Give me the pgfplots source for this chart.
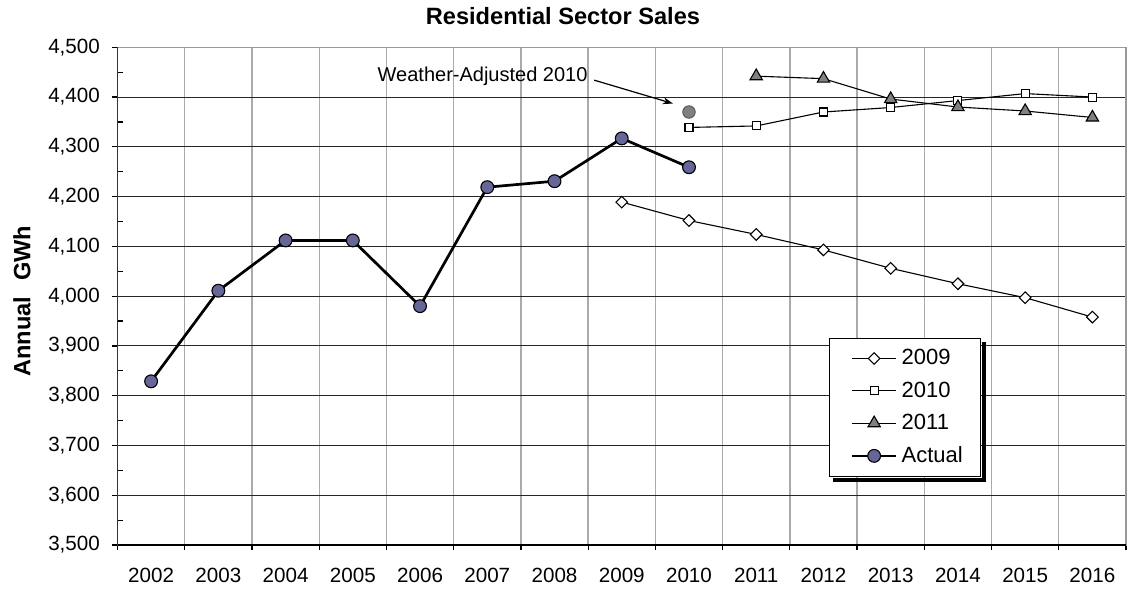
\documentclass[border=0pt]{standalone}
\usepackage{pgfplots}
\pgfplotsset{compat=1.18}
\usepackage{fontspec}
\setmainfont{Liberation Sans}
\usetikzlibrary{arrows.meta}
\definecolor{actualfill}{RGB}{102,102,153}
\definecolor{trigray}{RGB}{128,128,128}
\definecolor{vgrid}{RGB}{170,170,170}
\begin{document}
\begin{tikzpicture}
\begin{axis}[
  name=ax,
  scale only axis,
  width=504.25pt, height=248.9pt,
  xmin=-0.5, xmax=14.5,
  ymin=3500, ymax=4500,
  xtick={0,...,14},
  xticklabels={2002,2003,2004,2005,2006,2007,2008,2009,2010,2011,2012,2013,2014,2015,2016},
  minor xtick={-0.5,0.5,...,14.5},
  ytick={3500,3600,...,4500},
  minor ytick={3550,3650,...,4450},
  tick pos=left,
  tick align=outside,
  major tick length=2.8pt,
  minor tick length=2.7pt,
  major x tick style={draw=none},
  minor x tick style={black, line width=0.6pt},
  major y tick style={black, line width=0.6pt},
  minor y tick style={black, line width=0.6pt, xshift=2.7pt},
  xminorgrids=true,
  ymajorgrids=true,
  minor x grid style={vgrid, line width=0.7pt},
  major y grid style={black!85, line width=0.5pt},
  axis line style={draw=gray!80, line width=0.6pt},
  /pgf/number format/.cd, 1000 sep={,}, assume math mode=true,
  /pgfplots/.cd,
  tick label style={font=\fontsize{10.3pt}{12pt}\selectfont},
  xticklabel style={anchor=north, yshift=-5.3pt},
  yticklabel style={anchor=east, xshift=-2.5pt},
  title={Residential Sector Sales},
  title style={font=\bfseries\fontsize{11.8pt}{14pt}\selectfont, at={(0.5,1)}, anchor=base, yshift=5.15pt, xshift=-29.4pt},
  ylabel={Annual\hspace{8pt}GWh},
  ylabel style={font=\bfseries\fontsize{11.8pt}{14pt}\selectfont, at={(axis description cs:-0.0947,0.49)}, anchor=center},
  legend style={name=leg, at={(rel axis cs:0.7055,0.4166)}, anchor=north west, draw=black, fill=white, line width=0.6pt,
    font=\fontsize{11pt}{13pt}\selectfont, cells={anchor=west}, row sep=3pt,
    inner xsep=10.5pt, inner ysep=3.5pt},
  legend image code/.code={\draw[mark repeat=2,mark phase=2,#1] plot coordinates {(0cm,0cm) (0.39cm,0cm) (0.78cm,0cm)};},
]
\addplot[black, line width=0.55pt, mark=square*, mark size=2.05pt, mark options={fill=white, rotate=45, line width=0.55pt}]
  coordinates {(7,4189)(8,4152)(9,4124)(10,4093)(11,4056)(12,4025)(13,3997)(14,3958)};
\addlegendentry{2009}
\addplot[black, line width=0.55pt, mark=square*, mark size=2pt, mark options={fill=white, line width=0.55pt}]
  coordinates {(8,4339)(9,4342)(10,4370)(11,4379)(12,4393)(13,4407)(14,4400)};
\addlegendentry{2010}
\addplot[black, line width=0.55pt, mark=triangle*, mark size=3.55pt, mark options={fill=trigray, line width=0.55pt}]
  coordinates {(9,4442)(10,4437)(11,4396)(12,4380)(13,4372)(14,4359)};
\addlegendentry{2011}
\addplot[black, line width=1.35pt, mark=*, mark size=3.2pt, mark options={fill=actualfill, line width=0.55pt}]
  coordinates {(0,3829)(1,4011)(2,4112)(3,4112)(4,3980)(5,4219)(6,4231)(7,4317)(8,4259)};
\addlegendentry{Actual\hspace*{-3.5pt}}
\addplot[only marks, forget plot, mark=*, mark size=3.1pt, mark options={fill=trigray, draw=trigray!70!black, line width=0.5pt}]
  coordinates {(8,4370)};
\draw[black, line width=0.75pt] (rel axis cs:0,1) -- (rel axis cs:0,0) -- (rel axis cs:1,0);
\node[font=\fontsize{10pt}{12pt}\selectfont, anchor=center] at (axis cs:4.93,4441) {Weather-Adjusted 2010};
\draw[black, line width=0.6pt, -{Stealth[length=5pt,width=3.5pt]}] (axis cs:6.59,4434) -- (axis cs:7.76,4387);
\end{axis}
\fill[black] ([shift={(0.3pt,-2.2pt)}]leg.north east) rectangle ([shift={(2.3pt,-2.3pt)}]leg.south east);
\fill[black] ([shift={(2pt,-0.3pt)}]leg.south west) rectangle ([shift={(2.3pt,-2.3pt)}]leg.south east);
\pgfresetboundingbox
\path[use as bounding box] ([xshift=-58.75pt,yshift=-23.5pt]ax.south west) rectangle ([xshift=3.5pt,yshift=23.65pt]ax.north east);
\end{tikzpicture}
\end{document}
